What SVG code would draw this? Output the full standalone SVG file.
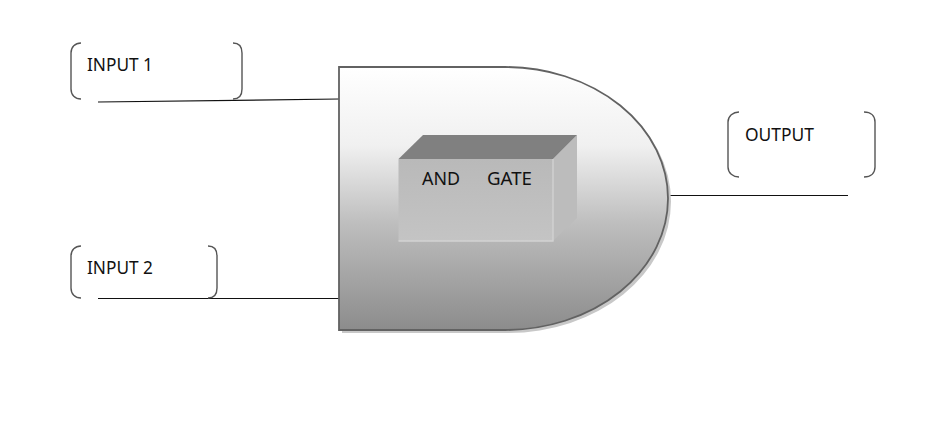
<svg xmlns="http://www.w3.org/2000/svg" width="948" height="442" viewBox="0 0 948 442">
<style>
.wire{fill:none;stroke:#111;stroke-width:1.2}
.br{fill:none;stroke:#555;stroke-width:1.4}
text{font-family:"Noto Sans","Liberation Sans",sans-serif;font-size:17.500px;fill:#111}
</style>
<defs>
<linearGradient id="g" x1="0" y1="0" x2="0" y2="1">
<stop offset="0" stop-color="#ffffff"/><stop offset="0.3" stop-color="#f0f0f0"/><stop offset="0.6" stop-color="#bdbdbd"/><stop offset="1" stop-color="#8c8c8c"/>
</linearGradient>
<linearGradient id="f" x1="0" y1="0" x2="0" y2="1">
<stop offset="0" stop-color="#b9b9b9"/><stop offset="1" stop-color="#c4c4c4"/>
</linearGradient>
</defs>
<rect width="948" height="442" fill="#fff"/>
<g id="connectors">
<path class="wire" d="M98 102L339 99"/>
<path class="wire" d="M98 298.500L339 298.500"/>
<path class="wire" d="M668 195.500L848 195.500"/>
</g>
<g id="and-gate">
<path d="M342 70H508A163 131.500 0 0 1 508 333H342Z" fill="#c8c8c8"/>
<path d="M339 67H505A163 131.500 0 0 1 505 330H339Z" fill="url(#g)" stroke="#626262" stroke-width="1.800"/>
</g>
<g id="and-gate-box">
<path d="M553 159L577 135V218L553 241Z" fill="#bcbcbc"/>
<path d="M398.500 159L423 135H577L553 159Z" fill="#808080"/>
<rect x="398.500" y="159" width="154.500" height="82" fill="url(#f)"/>
<path d="M398.500 241H553V159" fill="none" stroke="#d2d2d2" stroke-width="1.400"/>
<text x="422" y="185" textLength="38" lengthAdjust="spacingAndGlyphs">AND</text>
<text x="487" y="185" textLength="45" lengthAdjust="spacingAndGlyphs">GATE</text>
</g>
<g id="input-1">
<path class="br" d="M81 43C75 43 71 47 71 53V89C71 95 75 99 81 99"/>
<path class="br" d="M233 43C239 43 242 47 242 53V89C242 95 239 99 233 99"/>
<text x="87" y="71" textLength="66" lengthAdjust="spacingAndGlyphs">INPUT 1</text>
</g>
<g id="input-2">
<path class="br" d="M81 246C75 246 71 250 71 256V288C71 294 75 298 81 298"/>
<path class="br" d="M208 246C214 246 217 250 217 256V288C217 294 214 298 208 298"/>
<text x="87" y="274" textLength="66" lengthAdjust="spacingAndGlyphs">INPUT 2</text>
</g>
<g id="output">
<path class="br" d="M739 112C733 112 728 116 728 122V167C728 173 733 177 739 177"/>
<path class="br" d="M864 112C871 112 875 116 875 122V167C875 173 871 177 864 177"/>
<text x="745" y="141" textLength="69" lengthAdjust="spacingAndGlyphs">OUTPUT</text>
</g>
</svg>
